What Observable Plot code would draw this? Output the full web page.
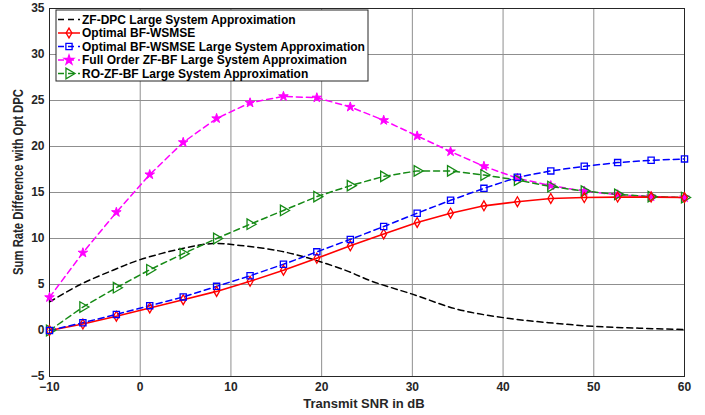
<!DOCTYPE html>
<html>
<head>
<meta charset="utf-8">
<script src="https://cdn.jsdelivr.net/npm/d3@7"></script>
<script src="https://cdn.jsdelivr.net/npm/@observablehq/plot@0.6"></script>
<style>
  html, body { margin: 0; padding: 0; background: #fff; }
</style>
</head>
<body>
<div id="chart"></div>
<script>
// Transmit SNR (dB) at marker positions
const snr = [-10, -6.32, -2.63, 1.05, 4.74, 8.42, 12.11, 15.79, 19.47, 23.16, 26.84, 30.53, 34.21, 37.89, 41.58, 45.26, 48.95, 52.63, 56.32, 60];
// Optimal BF-WSMSE
const optBF = [0, 0.7, 1.55, 2.45, 3.35, 4.25, 5.35, 6.55, 7.85, 9.2, 10.5, 11.75, 12.75, 13.55, 14.0, 14.35, 14.45, 14.5, 14.5, 14.45];
// Optimal BF-WSMSE Large System Approximation
const optBFLarge = [0, 0.85, 1.75, 2.7, 3.65, 4.8, 5.95, 7.2, 8.55, 9.9, 11.3, 12.75, 14.15, 15.45, 16.65, 17.35, 17.85, 18.25, 18.5, 18.65];
// Full Order ZF-BF Large System Approximation
const fullZF = [3.6, 8.45, 12.85, 16.95, 20.45, 23.05, 24.75, 25.45, 25.3, 24.3, 22.85, 21.15, 19.45, 17.85, 16.55, 15.75, 15.15, 14.75, 14.55, 14.45];
// RO-ZF-BF Large System Approximation
const roZF = [0, 2.55, 4.65, 6.6, 8.35, 10.0, 11.55, 13.05, 14.55, 15.75, 16.75, 17.35, 17.35, 16.9, 16.35, 15.65, 15.15, 14.8, 14.55, 14.45];
// ZF-DPC Large System Approximation (no markers)
const dpcX = [-10, -6.6, -3, 0, 4.8, 8, 11, 15.6, 19.3, 23, 25.4, 30, 35, 40, 45, 50, 55, 60];
const dpcY = [3.1, 5.0, 6.55, 7.7, 8.95, 9.45, 9.25, 8.6, 7.65, 6.4, 5.4, 3.95, 2.3, 1.4, 0.85, 0.45, 0.25, 0.1];

const xTicks = [-10, 0, 10, 20, 30, 40, 50, 60];
const yTicks = [-5, 0, 5, 10, 15, 20, 25, 30, 35];

const xLabel = "Transmit SNR in dB";
const yLabel = "Sum Rate Difference with Opt DPC";

const seriesNames = [
  "ZF-DPC Large System Approximation",
  "Optimal BF-WSMSE",
  "Optimal BF-WSMSE Large System Approximation",
  "Full Order ZF-BF Large System Approximation",
  "RO-ZF-BF Large System Approximation"
];

const mk = (ys) => snr.map((x, i) => ({x, y: ys[i]}));
const dRed = mk(optBF), dBlue = mk(optBFLarge), dMag = mk(fullZF), dGreen = mk(roZF);
const dBlack = dpcX.map((x, i) => ({x, y: dpcY[i]}));

const RED = "#ff0000", BLUE = "#0000ff", MAG = "#ff00ff", GREEN = "#158a15", BLACK = "#000000";
const DASH = "6,4";
const FONT = "'Liberation Sans', Arial, sans-serif";

const chart = Plot.plot({
  width: 705,
  height: 415,
  marginLeft: 49,
  marginRight: 21,
  marginTop: 8,
  marginBottom: 39,
  style: {fontFamily: FONT, fontSize: "12px", fontWeight: "bold", color: "#262626", background: "#fff"},
  x: {domain: [-10, 60]},
  y: {domain: [-5, 35]},
  marks: [
    Plot.ruleX(xTicks, {stroke: "#8f8f8f", strokeWidth: 1}),
    Plot.ruleY(yTicks, {stroke: "#8f8f8f", strokeWidth: 1}),
    Plot.frame({stroke: "#262626", strokeWidth: 1}),
    Plot.axisX({ticks: xTicks, tickSize: 0, tickPadding: 6, label: null}),
    Plot.axisY({ticks: yTicks, tickSize: 0, tickPadding: 5, label: null}),
    Plot.line(dBlack, {x: "x", y: "y", stroke: BLACK, strokeWidth: 1.5, strokeDasharray: DASH, curve: "catmull-rom"}),
    Plot.line(dMag, {x: "x", y: "y", stroke: MAG, strokeWidth: 1.5, strokeDasharray: DASH}),
    Plot.line(dGreen, {x: "x", y: "y", stroke: GREEN, strokeWidth: 1.5, strokeDasharray: DASH}),
    Plot.line(dRed, {x: "x", y: "y", stroke: RED, strokeWidth: 1.6}),
    Plot.line(dBlue, {x: "x", y: "y", stroke: BLUE, strokeWidth: 1.5, strokeDasharray: DASH}),
    Plot.dot(dMag, {x: "x", y: "y", symbol: "star", r: 3, fill: MAG, stroke: MAG, strokeWidth: 1}),
    Plot.dot(dGreen, {x: "x", y: "y", symbol: "triangle", r: 3.9, rotate: 90, fill: "none", stroke: GREEN, strokeWidth: 1.3}),
    Plot.dot(dRed, {x: "x", y: "y", symbol: "diamond", r: 3, fill: "none", stroke: RED, strokeWidth: 1.3}),
    Plot.dot(dBlue, {x: "x", y: "y", symbol: "square", r: 3.5, fill: "none", stroke: BLUE, strokeWidth: 1.3})
  ]
});

const svg = d3.select(chart);

// Axis titles
svg.append("text")
  .attr("x", 364).attr("y", 403).attr("dy", "0.35em")
  .attr("text-anchor", "middle")
  .attr("font-family", FONT).attr("font-weight", "bold").attr("font-size", "13px")
  .attr("fill", "#262626").text(xLabel);
svg.append("text")
  .attr("transform", "translate(18,182) rotate(-90)")
  .attr("dy", "0.35em")
  .attr("text-anchor", "middle")
  .attr("font-family", FONT).attr("font-weight", "bold").attr("font-size", "14.5px")
  .attr("textLength", 186).attr("lengthAdjust", "spacingAndGlyphs")
  .attr("fill", "#262626").text(yLabel);

// Legend box (inside the plot area, top-left)
const lg = svg.append("g")
  .attr("font-family", FONT)
  .attr("font-weight", "bold")
  .attr("font-size", "12px")
  .attr("text-anchor", "start");
lg.append("rect").attr("x", 56).attr("y", 10).attr("width", 312).attr("height", 71)
  .attr("fill", "#fff").attr("stroke", "#262626").attr("stroke-width", 1);
const legendStyles = [
  {color: BLACK, dash: DASH, sym: null},
  {color: RED, dash: null, sym: d3.symbolDiamond, size: Math.PI * 9, fill: "none"},
  {color: BLUE, dash: DASH, sym: d3.symbolSquare, size: Math.PI * 12.25, fill: "none"},
  {color: MAG, dash: DASH, sym: d3.symbolStar, size: Math.PI * 9, fill: MAG},
  {color: GREEN, dash: DASH, sym: d3.symbolTriangle, size: Math.PI * 15.2, fill: "none", rot: 90}
];
seriesNames.forEach((name, i) => {
  const s = legendStyles[i];
  const cy = 19.5 + i * 13.5;
  lg.append("line").attr("x1", 58).attr("x2", 80).attr("y1", cy).attr("y2", cy)
    .attr("stroke", s.color).attr("stroke-width", 1.5)
    .attr("stroke-dasharray", s.dash);
  if (s.sym) {
    lg.append("path").attr("d", d3.symbol(s.sym, s.size)())
      .attr("transform", `translate(69,${cy})` + (s.rot ? ` rotate(${s.rot})` : ""))
      .attr("fill", s.fill).attr("stroke", s.color).attr("stroke-width", 1.3);
  }
  lg.append("text").attr("x", 82).attr("y", cy).attr("dy", "0.35em")
    .attr("text-anchor", "start")
    .attr("fill", "#000").text(name);
});

document.getElementById("chart").appendChild(chart);
</script>
</body>
</html>
